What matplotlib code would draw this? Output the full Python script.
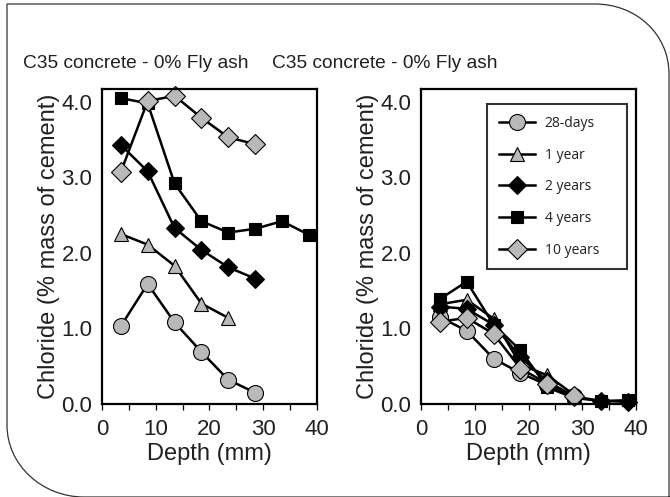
import matplotlib
matplotlib.use("Agg")
import matplotlib.pyplot as plt
from matplotlib.path import Path
import matplotlib.patches as patches

# Data (depth in mm, chloride in % mass of cement)
depth = [3.5, 8.5, 13.5, 18.5, 23.5, 28.5, 33.5, 38.5]
series_labels = ["28-days", "1 year", "2 years", "4 years", "10 years"]

left_28d = [1.03, 1.59, 1.08, 0.69, 0.32, 0.15]
left_1y = [2.25, 2.11, 1.83, 1.33, 1.14]
left_2y = [3.43, 3.08, 2.33, 2.04, 1.81, 1.66]
left_4y = [4.05, 3.98, 2.92, 2.42, 2.27, 2.32, 2.42, 2.24]
left_10y = [3.07, 4.01, 4.08, 3.79, 3.53, 3.44]

right_28d = [1.15, 0.97, 0.60, 0.41, 0.25, 0.10]
right_1y = [1.32, 1.38, 1.13, 0.52, 0.38, 0.12]
right_2y = [1.29, 1.26, 1.05, 0.62, 0.30, 0.10, 0.04, 0.03]
right_4y = [1.39, 1.62, 1.05, 0.71, 0.22, 0.08, 0.04, 0.05]
right_10y = [1.09, 1.14, 0.93, 0.47, 0.27, 0.10]

titles = ["C35 concrete - 0% Fly ash", "C35 concrete - 0% Fly ash"]

txt = "#231f20"
gray = "#b9b9b9"
styles = [
    dict(marker="o", mfc=gray, ms=11.5),
    dict(marker="^", mfc=gray, ms=10),
    dict(marker="D", mfc="black", ms=9.2),
    dict(marker="s", mfc="black", ms=8.8),
    dict(marker="D", mfc=gray, ms=10),
]

plt.rcParams["font.family"] = ["Liberation Sans", "DejaVu Sans"]

fig = plt.figure(figsize=(6.7, 4.97), dpi=100)

# background frame with rounded corners
bg = fig.add_axes([0, 0, 1, 1])
bg.set_xlim(0, 670)
bg.set_ylim(497, 0)
bg.axis("off")
verts = [(669, 520), (669, 74), (669, 34), (636, 4), (595, 4), (7, 4),
         (7, 425), (7, 465), (42, 497), (84, 497), (700, 497)]
codes = [Path.MOVETO, Path.LINETO, Path.CURVE4, Path.CURVE4, Path.CURVE4,
         Path.LINETO, Path.LINETO, Path.CURVE4, Path.CURVE4, Path.CURVE4,
         Path.LINETO]
bg.add_patch(patches.PathPatch(Path(verts, codes), fill=False,
                               edgecolor="#333333", lw=0.9))

panels = [
    ([0.1522, 0.1871, 0.3209, 0.6338], [left_28d, left_1y, left_2y, left_4y, left_10y]),
    ([0.6284, 0.1871, 0.3209, 0.6338], [right_28d, right_1y, right_2y, right_4y, right_10y]),
]

title_x = [23 / 670, 272 / 670]

for i, (rect, data) in enumerate(panels):
    ax = fig.add_axes(rect)
    for vals, lab, st in zip(data, series_labels, styles):
        ax.plot(depth[:len(vals)], vals, color="black", lw=1.8,
                mec="black", mew=0.8, label=lab, clip_on=False, **st)
    ax.set_xlim(0, 40)
    ax.set_ylim(0, 4.17)
    ax.set_xticks([0, 10, 20, 30, 40])
    ax.set_xticks([5, 15, 25, 35], minor=True)
    ax.set_yticks([0, 1, 2, 3, 4])
    ax.set_yticklabels(["0.0", "1.0", "2.0", "3.0", "4.0"])
    ax.tick_params(axis="x", which="both", direction="out", length=4,
                   width=0.9, pad=7, labelsize=16, colors=txt)
    ax.tick_params(axis="x", which="both", color="black")
    ax.tick_params(axis="y", length=0, pad=7, labelsize=16, labelcolor=txt)
    for s in ax.spines.values():
        s.set_linewidth(1.6)
    ax.set_xlabel("Depth (mm)", fontsize=17, color=txt, labelpad=2)
    ax.set_ylabel("Chloride (% mass of cement)", fontsize=17, color=txt, labelpad=1)
    fig.text(title_x[i], 1 - 63 / 497, titles[i], fontsize=13.8, color=txt,
             ha="left", va="center")
    if i == 1:
        leg = ax.legend(loc="upper left", bbox_to_anchor=(0.307, 0.438, 0.651, 0.514),
                        mode="expand", borderaxespad=0, numpoints=1, fancybox=False,
                        frameon=True, edgecolor="black", handlelength=2.6,
                        handletextpad=0.7, labelspacing=1.2, borderpad=0.85,
                        prop={"family": "Open Sans", "size": 10})
        leg.get_frame().set_linewidth(1.5)
        for t in leg.get_texts():
            t.set_color(txt)

fig.savefig("out.png", dpi=100)
